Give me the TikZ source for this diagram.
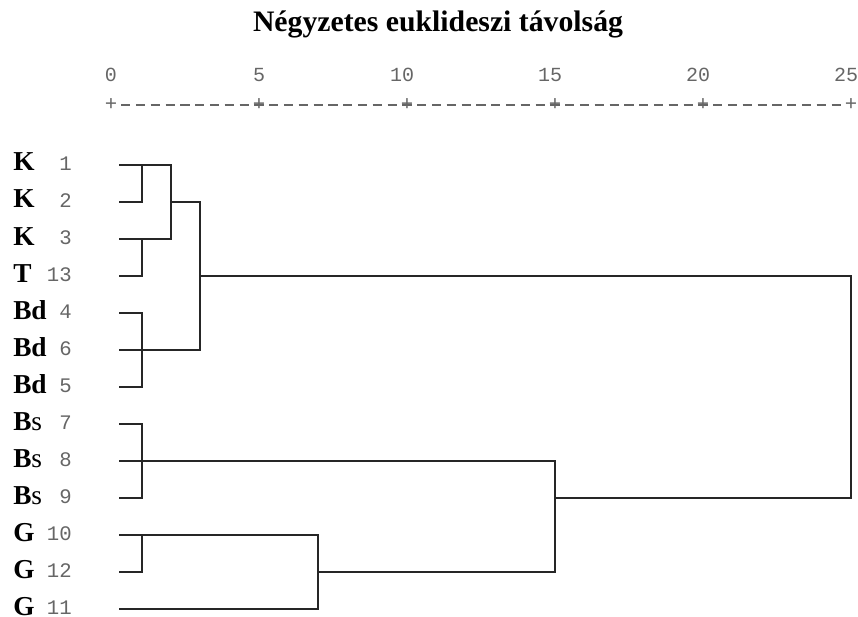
\documentclass[tikz,border=0pt]{standalone}
\usepackage{fontspec}
\setmainfont{Liberation Serif}
\setmonofont{Liberation Mono}
\usetikzlibrary{positioning}

\begin{document}
\begin{tikzpicture}[x=0.75pt, y=-0.75pt,
		tag/.style={font=\bfseries\fontsize{20.5}{20.5}\selectfont, anchor=base west, inner sep=0pt},
		num/.style={font=\ttfamily\fontsize{15.5}{15.5}\selectfont, text=black!60, anchor=base east, inner sep=0pt},
		scalenum/.style={font=\ttfamily\fontsize{15}{15}\selectfont, text=black!60, anchor=base, inner sep=0pt},
		plus/.style={font=\ttfamily\fontsize{15.5}{15.5}\selectfont, text=black!60, inner sep=0pt},
		rule/.style={black!60, line width=0.9pt, dash pattern=on 7pt off 4.1pt},
		link/.style={black!85, line width=1.1pt}]
		\useasboundingbox (0,0) rectangle (858,617);
		% title and scale
		\node[font=\bfseries\fontsize{22.3}{22.3}\selectfont, anchor=base, inner sep=0pt] (title) at (438,32) {Négyzetes euklideszi távolság};
		\foreach \v in {0,5} {
			\node[scalenum] (s\v) at ({111+29.6*\v},82) {\v};
		}
		\foreach \v in {10,15,20,25} {
			\node[scalenum] (s\v) at ({106+29.6*\v},82) {\v};
		}
		\foreach \v in {0,5,10,15,20,25} {
			\node[plus] (p\v) at ({111+29.6*\v},105) {+};
		}
		\draw[rule] ([xshift=7.6pt]p0.center) -- ([xshift=-7.6pt]p25.center);
		% leaves
		\foreach \lab/\num [count=\i] in {K/1, K/2, K/3, T/13, Bd/4, Bd/6, Bd/5, B\textmd{s}/7, B\textmd{s}/8, B\textmd{s}/9, G/10, G/12, G/11} {
			\node[tag] (t\i) at (13,{171+37*(\i-1)}) {\lab};
			\node[num] (n\i) at (72,{170.5+37*(\i-1)}) {\num};
			\coordinate (l\i) at (119,{165+37*(\i-1)});
		}
		% merge levels
		\coordinate (m1) at (142,0);
		\coordinate (m2) at (171,0);
		\coordinate (m3) at (200,0);
		\coordinate (m7) at (318,0);
		\coordinate (m15) at (555,0);
		\coordinate (m25) at (851,0);
		% K, T, Bd
		\draw[link] (l1) -- (l1 -| m2) -- (l3 -| m2) -- (l3);
		\draw[link] (l1 -| m1) -- (l2 -| m1) -- (l2);
		\draw[link] (l3 -| m1) -- (l4 -| m1) -- (l4);
		\draw[link] (l5) -- (l5 -| m1) -- (l7 -| m1) -- (l7);
		\draw[link] (l2 -| m2) -- (l2 -| m3) -- (l6 -| m3) -- (l6);
		% Bs, G
		\draw[link] (l8) -- (l8 -| m1) -- (l10 -| m1) -- (l10);
		\draw[link] (l11) -- (l11 -| m7) -- (l13 -| m7) -- (l13);
		\draw[link] (l11 -| m1) -- (l12 -| m1) -- (l12);
		\draw[link] (l9) -- (l9 -| m15) -- (l12 -| m15) -- (l12 -| m7);
		% top
		\draw[link] (l4 -| m3) -- (l4 -| m25) -- (l10 -| m25) -- (l10 -| m15);
	\end{tikzpicture}
\end{document}
